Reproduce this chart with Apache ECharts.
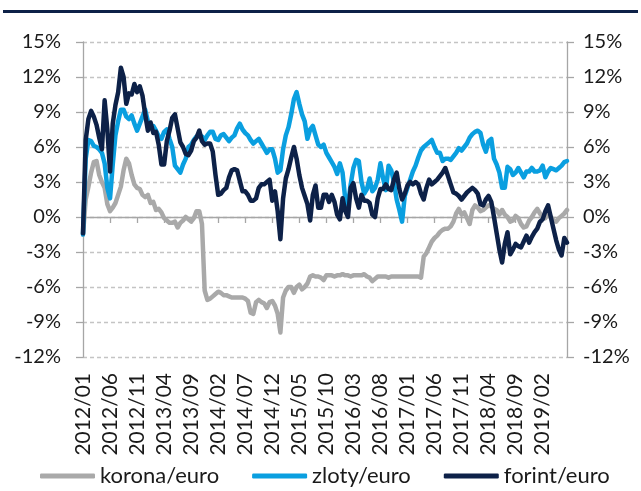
<!DOCTYPE html>
<html>
<head>
<meta charset="utf-8">
<script src="https://cdn.jsdelivr.net/npm/echarts@6/dist/echarts.min.js"></script>
<style>
  html, body { margin: 0; padding: 0; background: #ffffff; }
  #chart { width: 641px; height: 491px; }
</style>
</head>
<body>
<div id="chart"></div>
<script>
// Semi-monthly observations, 2012/01 .. 2019/06
const startYear = 2012;
const monthCount = 90;
const categories = [];
for (let m = 0; m < monthCount; m++) {
  const y = startYear + Math.floor(m / 12);
  const mm = String(m % 12 + 1).padStart(2, '0');
  categories.push(y + '/' + mm + '/01');
  categories.push(y + '/' + mm + '/16');
}

const seriesNames = ['korona/euro', 'zloty/euro', 'forint/euro'];

const korona = [
  -1.5, 1.5, 2.6, 3.8, 4.7, 4.8, 3.6, 3.0, 2.5, 1.1,
  0.5, 0.8, 1.2, 1.9, 2.6, 4.0, 5.0, 4.6, 3.6, 2.8,
  2.5, 2.4, 1.9, 1.7, 1.9, 1.2, 1.3, 0.6, 0.7, 0.4,
  -0.1, -0.3, -0.5, -0.5, -0.4, -0.9, -0.5, -0.3, 0.0, -0.2,
  -0.4, -0.1, 0.5, 0.5, -0.6, -6.3, -7.1, -7.0, -6.8, -6.6,
  -6.4, -6.5, -6.7, -6.7, -6.8, -6.9, -6.9, -6.9, -6.9, -6.9,
  -7.0, -7.2, -8.2, -8.3, -7.3, -7.1, -7.3, -7.4, -7.8, -7.3,
  -7.2, -7.6, -8.3, -9.9, -6.9, -6.3, -6.0, -6.0, -6.5, -6.0,
  -5.8, -6.2, -6.0, -5.7, -5.1, -5.0, -5.1, -5.1, -5.2, -5.4,
  -5.0, -5.0, -5.0, -5.1, -5.0, -5.0, -4.9, -5.0, -5.0, -5.1,
  -5.0, -5.0, -5.0, -5.0, -4.9, -5.1, -5.2, -5.5, -5.3, -5.1,
  -5.1, -5.1, -5.1, -5.2, -5.1, -5.1, -5.1, -5.1, -5.1, -5.1,
  -5.1, -5.1, -5.1, -5.1, -5.1, -5.2, -3.4, -3.1, -2.6, -2.1,
  -1.8, -1.6, -1.3, -1.1, -1.0, -1.0, -0.8, -0.4, 0.3, 0.7,
  0.2, 0.4, -0.1, -0.6, 0.6, 1.0, 0.8, 0.5, 0.6, 0.8,
  1.0, 0.9, 0.7, 0.6, 0.2, 0.6, 0.2, 0.0, -0.4, -0.3,
  0.1, -0.1, -0.6, -0.9, -0.8, -0.3, 0.0, 0.4, 0.7, 0.3,
  0.0, -0.1, 0.4, 0.0, -0.3, -0.4, -0.1, 0.1, 0.3, 0.6
];

const zloty = [
  -1.5, 5.0, 6.6, 6.5, 6.1, 6.0, 5.8, 5.5, 4.6, 2.5,
  1.6, 4.5, 7.0, 8.2, 9.2, 9.2, 8.6, 8.4, 8.7, 8.0,
  7.4, 8.0, 8.6, 9.2, 8.2, 7.7, 7.8, 7.4, 6.9, 6.7,
  7.3, 7.5, 6.7, 6.0, 4.4, 4.1, 3.8, 4.5, 5.0, 6.0,
  6.2, 6.6, 6.9, 7.0, 6.9, 6.6, 7.0, 7.3, 7.3, 6.7,
  6.6, 7.0, 7.1, 6.8, 6.5, 6.8, 7.0, 7.6, 8.0, 7.5,
  7.2, 7.0, 6.6, 6.3, 6.5, 6.7, 6.3, 5.9, 5.5, 5.8,
  5.8, 5.0, 3.8, 4.0, 5.8, 7.0, 7.7, 8.8, 10.1, 10.7,
  9.7, 8.8, 8.2, 6.7, 7.5, 7.8, 7.0, 6.2, 6.0, 6.2,
  5.5, 5.1, 4.7, 4.3, 3.7, 4.6, 3.8, 1.5, 1.0, 2.8,
  4.2, 4.9, 4.8, 3.0, 2.0, 2.4, 3.3, 2.2, 2.5, 3.2,
  4.6, 3.3, 2.3, 4.4, 4.0, 3.0, 1.5, 0.6, -0.4, 1.8,
  2.5, 3.2, 3.9, 4.4, 5.1, 5.7, 6.0, 6.2, 6.4, 6.6,
  6.0, 5.5, 5.5, 4.8, 5.0, 5.0, 4.9, 5.2, 5.5, 5.9,
  5.7, 6.0, 6.3, 6.8, 7.1, 7.3, 7.4, 7.2, 6.2, 5.6,
  6.5, 6.7, 5.0, 4.5, 3.8, 2.5, 2.5, 4.3, 4.1, 3.6,
  3.8, 4.2, 3.8, 3.4, 3.9, 3.9, 4.2, 3.9, 3.9, 4.0,
  4.4, 3.4, 3.9, 4.2, 4.1, 4.0, 4.2, 4.4, 4.7, 4.8
];

const forint = [
  -1.4, 6.6, 8.4, 9.1, 8.6, 7.9, 6.8, 5.8, 10.0, 7.5,
  3.9, 8.0, 9.6, 10.7, 12.8, 12.0, 9.7, 10.6, 10.5, 11.4,
  10.7, 11.2, 10.4, 8.8, 7.4, 8.1, 7.2, 7.3, 6.2, 4.5,
  4.5, 6.5, 7.4, 8.5, 8.8, 7.6, 6.4, 6.0, 5.4, 5.3,
  5.7, 6.5, 6.8, 7.4, 6.5, 6.2, 6.3, 6.3, 5.6, 3.6,
  1.9, 2.0, 2.3, 2.5, 3.4, 4.0, 4.1, 4.0, 3.1, 2.2,
  2.2, 1.9, 1.4, 1.4, 1.6, 2.5, 2.8, 2.8, 3.0, 3.2,
  1.4, 2.2, 0.5, -1.9, 1.6, 3.3, 4.1, 5.1, 6.0, 5.0,
  3.6, 2.5, 1.8, 1.1, -0.3, 1.9, 2.7, 0.8, 0.8, 1.9,
  1.9, 1.3, 1.9, 1.3, 0.2, -0.2, 1.6, 0.5, 0.0, 2.5,
  2.9, 1.6, 0.8, 1.9, 1.4, 1.4, 1.2, 0.2, 0.0, 1.6,
  2.4, 2.4, 2.8, 2.4, 2.3, 3.2, 3.8, 2.4, 1.5, 2.0,
  2.7, 3.0, 2.8, 3.0, 2.8, 2.0, 1.5, 2.5, 3.2, 2.8,
  3.0, 3.2, 3.5, 3.8, 4.2, 3.5, 2.8, 2.1, 2.0, 1.8,
  1.5, 1.8, 2.1, 2.3, 2.5, 2.3, 2.0, 1.1, 1.0, 1.5,
  1.8, 1.3, 0.0, -1.4, -2.8, -3.9, -2.3, -1.3, -3.2, -2.8,
  -2.3, -2.5, -2.6, -2.1, -1.6, -2.2, -1.7, -1.3, -1.0, -0.4,
  -0.2, 0.5, 1.0, 0.0, -1.0, -2.0, -2.8, -3.3, -1.8, -2.2
];

const yMin = -12, yMax = 15, yStep = 3;
const labelEvery = 10; // every 5 months

const FONT = 'Lato, "Noto Sans", sans-serif';
const TEXT = '#1a1a1a';
const AXIS = '#a6a6a6';
const GRIDC = '#c4c4c4';
const NAVY = '#0d2148';
const colors = ['#a9a9a9', '#0a9fe0', NAVY];

const chart = echarts.init(document.getElementById('chart'), null, { renderer: 'canvas' });

const yAxisBase = {
  type: 'value', min: yMin, max: yMax, interval: yStep,
  axisLine: { show: true, lineStyle: { color: AXIS, width: 1.3 } },
  axisTick: { show: true, length: 7, lineStyle: { color: AXIS, width: 1.3 } },
  axisLabel: { formatter: '{value}%', fontFamily: FONT, fontSize: 20, color: TEXT }
};

chart.setOption({
  animation: false,
  backgroundColor: '#ffffff',
  color: colors,
  graphic: [{
    type: 'rect', left: 3, top: 10,
    shape: { width: 635, height: 3 },
    style: { fill: NAVY }
  }],
  grid: { left: 83, right: 74, top: 42, bottom: 134, containLabel: false, outerBoundsMode: 'none' },
  legend: {
    data: seriesNames,
    left: 40, top: 465, padding: 0,
    itemWidth: 55, itemHeight: 5, itemGap: 33,
    icon: 'roundRect',
    textStyle: { fontFamily: FONT, fontSize: 22, color: TEXT }
  },
  xAxis: [
    {
      type: 'category', data: categories, boundaryGap: false, position: 'bottom',
      axisLine: { show: false, onZero: false },
      axisTick: { show: false },
      splitLine: { show: false },
      axisLabel: {
        rotate: 90, margin: 16, fontFamily: FONT, fontSize: 21, color: TEXT,
        interval: (i) => i % labelEvery === 0,
        formatter: (v) => v.slice(0, 7)
      }
    },
    {
      type: 'category', data: categories, boundaryGap: false, position: 'bottom',
      axisLine: { show: true, onZero: true, lineStyle: { color: AXIS, width: 1.3 } },
      axisTick: { show: true, length: 6, interval: (i) => i % labelEvery === 0, lineStyle: { color: AXIS, width: 1.3 } },
      axisLabel: { show: false },
      splitLine: { show: false }
    }
  ],
  yAxis: [
    Object.assign({}, yAxisBase, {
      position: 'left',
      axisLabel: Object.assign({}, yAxisBase.axisLabel, { margin: 22 }),
      splitLine: { show: true, lineStyle: { color: GRIDC, width: 1.3, type: [4, 3] } }
    }),
    Object.assign({}, yAxisBase, {
      position: 'right',
      axisLabel: Object.assign({}, yAxisBase.axisLabel, { margin: 16 }),
      splitLine: { show: false }
    })
  ],
  series: [
    { name: seriesNames[0], data: korona },
    { name: seriesNames[1], data: zloty },
    { name: seriesNames[2], data: forint }
  ].map((s, i) => ({
    name: s.name, type: 'line', data: s.data,
    xAxisIndex: 0, yAxisIndex: 0,
    showSymbol: false, symbol: 'none', smooth: false,
    lineStyle: { width: 4.5, color: colors[i], cap: 'round', join: 'round' },
    itemStyle: { color: colors[i] },
    z: 2 + i
  }))
});
</script>
</body>
</html>
